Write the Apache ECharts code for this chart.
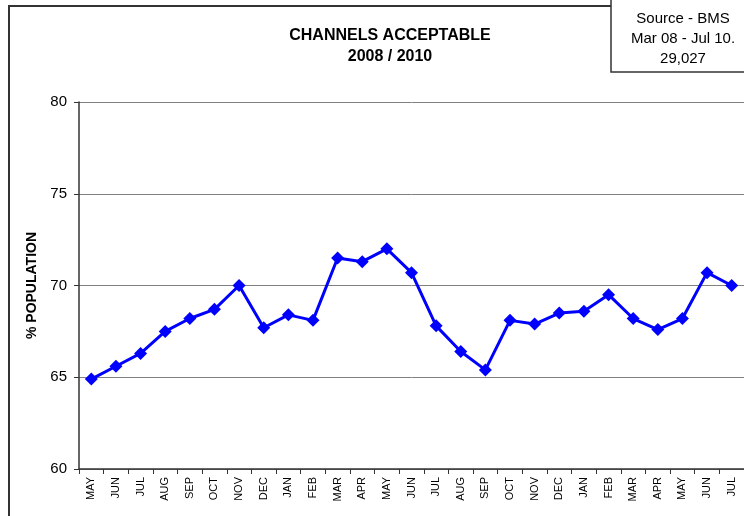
<!DOCTYPE html>
<html>
<head>
<meta charset="utf-8">
<script src="https://cdn.jsdelivr.net/npm/echarts@6/dist/echarts.min.js"></script>
<style>
  html, body { margin: 0; padding: 0; background: #ffffff; }
  #chart { width: 744px; height: 516px; }
</style>
</head>
<body>
<div id="chart"></div>
<script>
// Monthly survey months, May 2008 through July 2010
const months = ['MAY', 'JUN', 'JUL', 'AUG', 'SEP', 'OCT', 'NOV', 'DEC', 'JAN', 'FEB', 'MAR', 'APR',
                'MAY', 'JUN', 'JUL', 'AUG', 'SEP', 'OCT', 'NOV', 'DEC', 'JAN', 'FEB', 'MAR', 'APR',
                'MAY', 'JUN', 'JUL'];

// Share of population finding the channels acceptable (%)
const acceptable = [64.9, 65.6, 66.3, 67.5, 68.2, 68.7, 70.0, 67.7, 68.4, 68.1, 71.5, 71.3,
                    72.0, 70.7, 67.8, 66.4, 65.4, 68.1, 67.9, 68.5, 68.6, 69.5, 68.2, 67.6,
                    68.2, 70.7, 70.0];

const titleLines = ['CHANNELS ACCEPTABLE', '2008 / 2010'];
const sourceLines = ['Source - BMS', 'Mar 08 - Jul 10.', '29,027'];
const yAxisTitle = '% POPULATION';

const FONT = 'Liberation Sans, Arial, sans-serif';
const chart = echarts.init(document.getElementById('chart'), null, { renderer: 'canvas' });

chart.setOption({
  animation: false,
  backgroundColor: '#ffffff',
  title: [
    {
      text: titleLines.join('\n'),
      left: 385,
      top: 20,
      textAlign: 'center',
      textStyle: { fontFamily: FONT, fontSize: 16, fontWeight: 'bold', color: '#000', lineHeight: 21 }
    },
    {
      text: sourceLines.join('\n'),
      left: 678,
      top: 4,
      textAlign: 'center',
      textStyle: { fontFamily: FONT, fontSize: 15, fontWeight: 'normal', color: '#000', lineHeight: 20 }
    }
  ],
  graphic: [
    {
      type: 'polyline',
      shape: { points: [[9, 516], [9, 6], [611, 6]] },
      style: { stroke: '#333333', lineWidth: 2, fill: null },
      silent: true
    },
    {
      type: 'polyline',
      shape: { points: [[611, 0], [611, 72], [744, 72]] },
      style: { stroke: '#333333', lineWidth: 1.5, fill: null },
      silent: true
    }
  ],
  grid: { left: 79, right: -1, top: 102, bottom: 47, containLabel: false },
  xAxis: {
    type: 'category',
    data: months,
    boundaryGap: true,
    axisLine: { show: true, lineStyle: { color: '#333333', width: 1.5 } },
    axisTick: { show: true, interval: 0, length: 5, lineStyle: { color: '#333333', width: 1 } },
    axisLabel: {
      interval: 0,
      rotate: 90,
      margin: 8,
      fontFamily: FONT,
      fontSize: 11,
      color: '#000'
    },
    splitLine: { show: false }
  },
  yAxis: {
    type: 'value',
    min: 60,
    max: 80,
    interval: 5,
    name: yAxisTitle,
    nameLocation: 'middle',
    nameGap: 37,
    nameRotate: 90,
    nameTextStyle: { fontFamily: FONT, fontSize: 14, fontWeight: 'bold', color: '#000' },
    axisLine: { show: true, lineStyle: { color: '#333333', width: 1.5 } },
    axisTick: { show: true, length: 5, lineStyle: { color: '#333333', width: 1 } },
    axisLabel: { margin: 12, fontFamily: FONT, fontSize: 15, color: '#000' },
    splitLine: { show: true, lineStyle: { color: '#808080', width: 1 } }
  },
  series: [
    {
      type: 'line',
      data: acceptable,
      symbol: 'diamond',
      symbolSize: 13,
      itemStyle: { color: '#0000ff' },
      lineStyle: { color: '#0000ff', width: 3 },
      z: 3
    }
  ]
});
</script>
</body>
</html>
